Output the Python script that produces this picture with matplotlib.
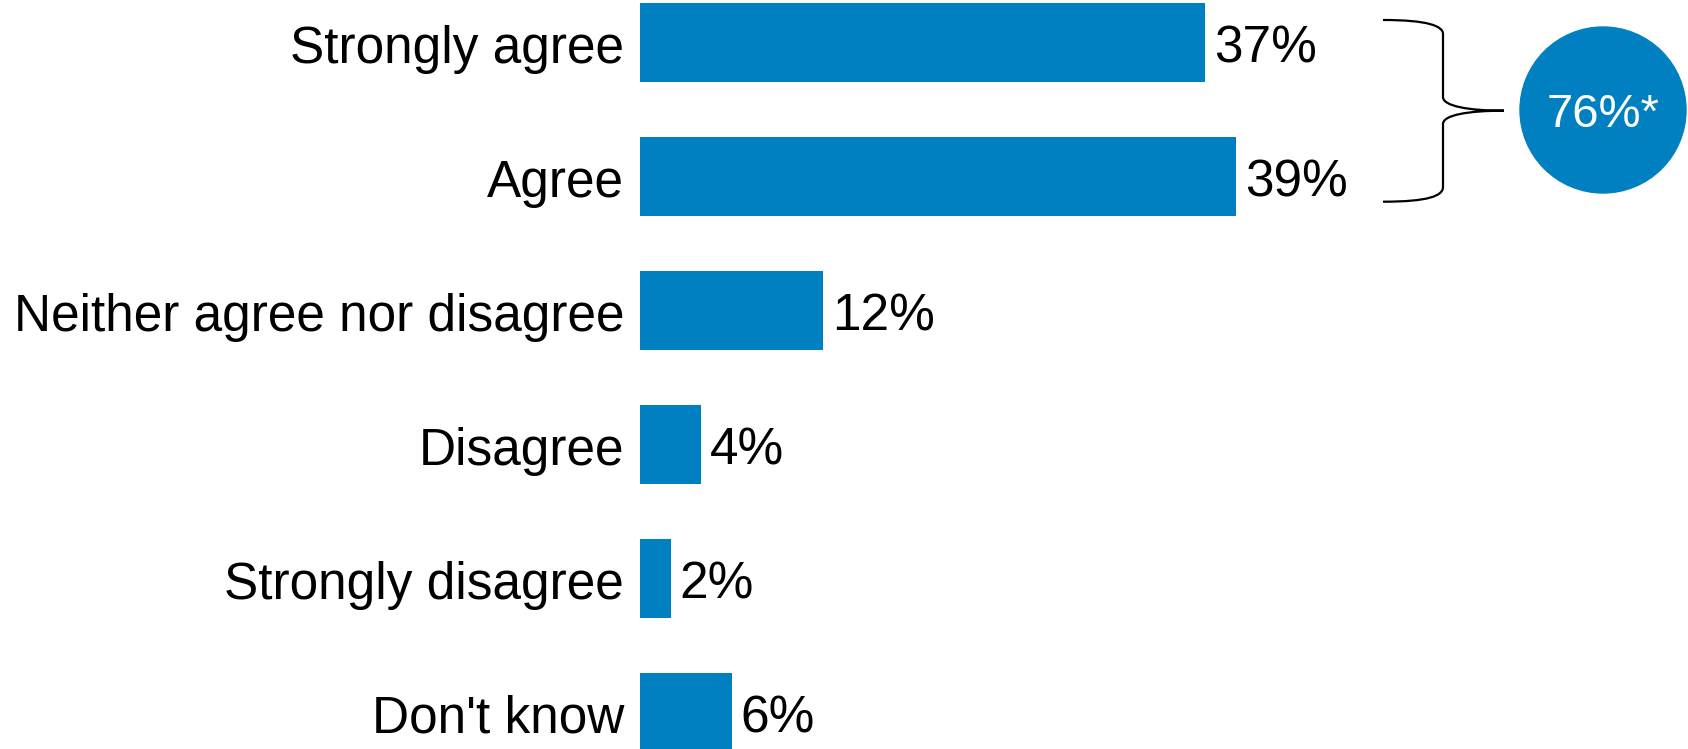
import matplotlib
matplotlib.use("Agg")
import matplotlib.pyplot as plt
from matplotlib.path import Path
from matplotlib.patches import PathPatch, Circle
from matplotlib.transforms import ScaledTranslation

categories = ["Strongly agree", "Agree", "Neither agree nor disagree",
              "Disagree", "Strongly disagree", "Don't know"]
values = [37, 39, 12, 4, 2, 6]
value_labels = ["37%", "39%", "12%", "4%", "2%", "6%"]
net_label = "76%*"

BLUE = "#0080c0"
plt.rcParams['font.family'] = ['Liberation Sans', 'DejaVu Sans']

W, H = 1688, 749
fig = plt.figure(figsize=(W / 100, H / 100), dpi=100)

x0 = 640
ax = fig.add_axes([x0 / W, 0, (W - x0) / W, 1])
pxper = 15.28
ax.set_xlim(0, (W - x0) / pxper)
ypos = list(range(len(categories)))
ax.set_ylim(5 + (749 - 712.5) / 134, -43 / 134)
ax.barh(ypos, values, height=0.59, color=BLUE)

# baseline offset: text sits ~20 px below bar centre (in points at dpi 100)
down = ScaledTranslation(0, -20 / 100, fig.dpi_scale_trans)
for y, v, lab in zip(ypos, values, value_labels):
    ax.text(v + 0.6, y, lab, va='baseline', ha='left', fontsize=37,
            color='black', transform=ax.transData + down)
ax.set_yticks(ypos)
ax.set_yticklabels(categories, fontsize=37)
ax.tick_params(axis='y', length=0, pad=11.5)
for t in ax.get_yticklabels():
    t.set_verticalalignment('baseline')
    t.set_transform(t.get_transform() + down)
ax.set_xticks([])
for s in ax.spines.values():
    s.set_visible(False)

# overlay in pixel coordinates
ov = fig.add_axes([0, 0, 1, 1])
ov.set_xlim(0, W)
ov.set_ylim(H, 0)
ov.axis('off')
ov.patch.set_alpha(0)

verts = [
    (1383, 20), (1428, 20), (1443, 26), (1443, 34),
    (1443, 97),
    (1443, 106), (1468, 110.7), (1504, 110.7),
    (1468, 110.7), (1443, 115), (1443, 124),
    (1443, 187),
    (1443, 196), (1428, 201.7), (1383, 201.7),
]
codes = [Path.MOVETO, Path.CURVE4, Path.CURVE4, Path.CURVE4,
         Path.LINETO,
         Path.CURVE4, Path.CURVE4, Path.CURVE4,
         Path.CURVE4, Path.CURVE4, Path.CURVE4,
         Path.LINETO,
         Path.CURVE4, Path.CURVE4, Path.CURVE4]
ov.add_patch(PathPatch(Path(verts, codes), fill=False, lw=1.6, edgecolor='black'))
ov.add_patch(Circle((1603, 110), 83, color=BLUE))
ov.text(1603, 127, net_label, ha='center', va='baseline', fontsize=34, color='white')

fig.savefig("out.png", dpi=100)
